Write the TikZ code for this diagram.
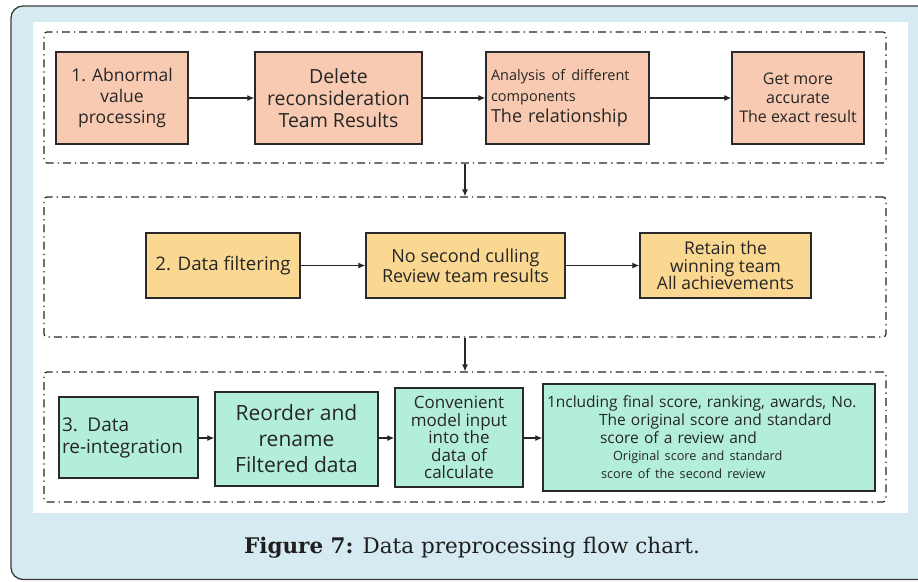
\documentclass[tikz,border=0pt]{standalone}
\usepackage{fontspec}
\setmainfont{Open Sans}
\newfontfamily\capfont{DejaVu Serif}
\usetikzlibrary{arrows.meta}

\definecolor{panelblue}{HTML}{D5EBF1}
\definecolor{framegray}{HTML}{3C3C3C}
\definecolor{salmon}{HTML}{F8CAB2}
\definecolor{sand}{HTML}{FAD891}
\definecolor{mint}{HTML}{B3EED9}
\definecolor{edge}{HTML}{2A2A2A}
\definecolor{ink}{HTML}{262626}

\begin{document}
\begin{tikzpicture}[x=1pt,y=-1pt,
  stagebox/.style={draw=black!85, line width=1.2pt,
    dash pattern=on 8pt off 4pt on 1.3pt off 4pt,
    rounded corners=3pt, minimum width=842pt, inner sep=0pt},
  proc/.style={draw=edge, line width=1.4pt, inner sep=2pt, text=ink,
    font=\fontsize{18}{21}\selectfont},
  flow/.style={-{Latex[length=7pt,width=6pt]}, line width=1.2pt, draw=black!85},
]
\useasboundingbox (0,0) rectangle (918,581);

% outer panel and white figure area
\begin{scope}
  \clip (0,0) rectangle (918,581);
  \draw[fill=panelblue, draw=framegray, line width=1.3pt, rounded corners=12pt]
    (11,6) rectangle (940,579.5);
\end{scope}
\fill[white] (33,22) rectangle (908,513);

% three stage frames
\node[stagebox, minimum height=131pt] (g1) at (465,97.5) {};
\node[stagebox, minimum height=140pt] (g2) at (465,267) {};
\node[stagebox, minimum height=130pt] (g3) at (465,437) {};

% stage 1
\node[proc, fill=salmon, minimum width=132pt, minimum height=92pt, align=center,
      font=\fontsize{17.5}{21}\selectfont] (n1) at (122,98)
  {1. Abnormal\\value\\processing};
\node[proc, fill=salmon, minimum width=167pt, minimum height=92pt, align=center,
      font=\fontsize{19.5}{22}\selectfont] (n2) at (338.5,98)
  {Delete\\reconsideration\\Team Results};
\node[proc, fill=salmon, minimum width=163pt, minimum height=92pt, inner xsep=0pt,
      text width=153pt, align=left, font=\fontsize{18}{21}\selectfont] (n3) at (567.5,98)
  {{\fontsize{14.5}{19}\selectfont Analysis of different\\components}\\The relationship};
\node[proc, fill=salmon, minimum width=132pt, minimum height=92pt, align=center,
      font=\fontsize{16}{19}\selectfont] (n4) at (798,98)
  {Get more\\accurate\\The exact result};

% stage 2
\node[proc, fill=sand, minimum width=154pt, minimum height=65pt,
      font=\fontsize{18.7}{22}\selectfont] (m1) at (223,265.5) {2. Data filtering};
\node[proc, fill=sand, minimum width=199pt, minimum height=65pt, align=center,
      font=\fontsize{18}{20}\selectfont] (m2) at (465.5,265.5)
  {No second culling\\Review team results};
\node[proc, fill=sand, minimum width=171pt, minimum height=65pt, align=center,
      font=\fontsize{17.5}{17.5}\selectfont] (m3) at (725.5,265.5)
  {Retain the\\winning team\\All achievements};

% stage 3
\node[proc, fill=mint, minimum width=139pt, minimum height=81pt, inner xsep=0pt,
      text width=133pt, align=left, font=\fontsize{19}{22}\selectfont] (k1) at (128.5,437.5)
  {3. Data\\re-integration};
\node[proc, fill=mint, minimum width=163pt, minimum height=94pt, align=center,
      font=\fontsize{21}{26}\selectfont] (k2) at (296.5,439)
  {Reorder and\\rename\\Filtered data};
\node[proc, fill=mint, minimum width=128pt, minimum height=99pt, align=center,
      font=\fontsize{17}{17.5}\selectfont] (k3) at (459,437.5)
  {Convenient\\model input\\into the\\data of\\calculate};
\node[proc, fill=mint, minimum width=332pt, minimum height=107pt, inner xsep=0pt,
      text width=332pt, align=left, font=\fontsize{15.5}{18}\selectfont] (k4) at (709,437.5)
  {\hspace*{4pt}1ncluding final score, ranking, awards, No.\\
   \hspace*{56pt}The original score and standard\\
   \hspace*{57pt}score of a review and\\
   {\fontsize{12.7}{17}\selectfont\hspace*{70pt}Original score and standard\\
   \hspace*{58pt}score of the second review}};

% connectors
\draw[flow] (n1) -- (n2);
\draw[flow] (n2) -- (n3);
\draw[flow] (n3) -- (n4);
\draw[flow] (m1) -- (m2);
\draw[flow] (m2) -- (m3);
\draw[flow] (k1.east |- 0,438) -- (k2.west |- 0,438);
\draw[flow] (k2.east |- 0,438) -- (k3.west |- 0,438);
\draw[flow] (k3.east |- 0,438) -- (k4.west |- 0,438);
\draw[flow] (g1.south) -- (g2.north);
\draw[flow] (g2.south) -- (g3.north);

% caption
\node[font=\capfont\fontsize{21.5}{25}\selectfont, text=black!88] (cap) at (472,548)
  {\textbf{Figure 7:} Data preprocessing flow chart.};
\end{tikzpicture}
\end{document}
